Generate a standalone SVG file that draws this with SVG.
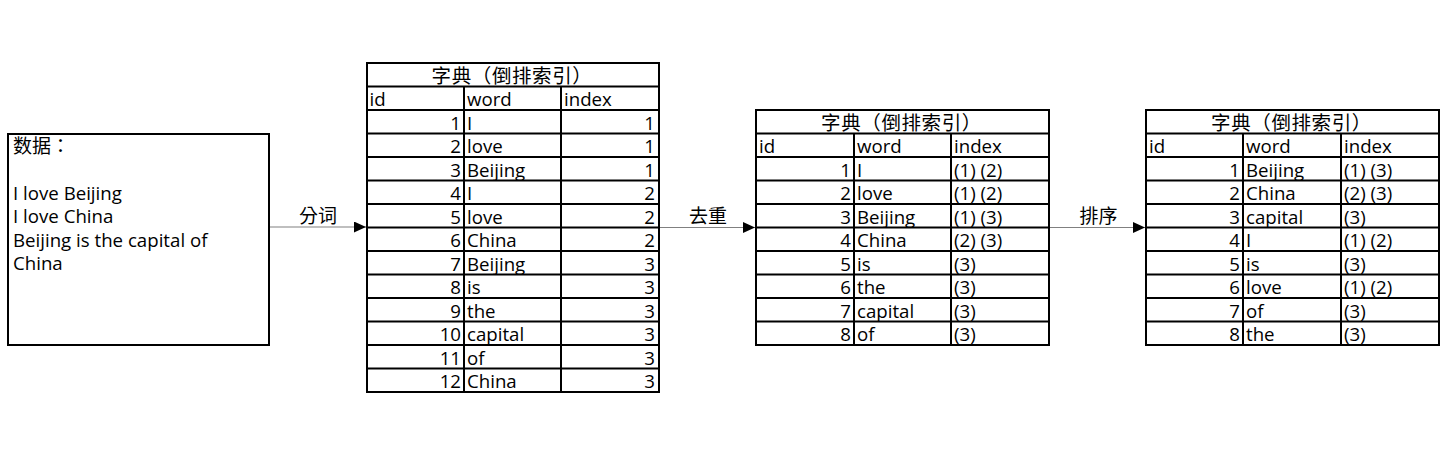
<svg xmlns="http://www.w3.org/2000/svg" width="1448" height="463" viewBox="0 0 1448 463">
<style>
text{font-family:"Open Sans","Noto Sans CJK SC",sans-serif;font-size:18.67px;fill:#000}
.e{text-anchor:end}
.m{text-anchor:middle}
.t{font-size:19.5px;letter-spacing:0.6px}
.cjk{font-family:"Open Sans","Noto Sans CJK TC",sans-serif;font-size:19px}
.box{fill:#fff;stroke:#000;stroke-width:2}
.grid{stroke:#000;stroke-width:2;fill:none}
.conn{stroke:#808080;stroke-width:1.2;fill:none}
</style>
<defs>
<marker id="arr" markerUnits="userSpaceOnUse" markerWidth="13" markerHeight="12" refX="12" refY="5.5" orient="auto">
<path d="M0,0 L12,5.5 L0,11 z" fill="#000"/>
</marker>
</defs>
<rect width="1448" height="463" fill="#fff"/>

<g id="connectors">
<line class="conn" x1="270" y1="227" x2="366" y2="227" marker-end="url(#arr)"/>
<text class="m cjk" x="318" y="223">分词</text>
<line class="conn" x1="660" y1="227.5" x2="755" y2="227.5" marker-end="url(#arr)"/>
<text class="m cjk" x="708" y="223">去重</text>
<line class="conn" x1="1050" y1="227.5" x2="1145" y2="227.5" marker-end="url(#arr)"/>
<text class="m cjk" x="1098.5" y="223">排序</text>
</g>

<g id="data">
<rect class="box" x="8" y="134" width="261" height="211"/>
<text class="cjk" x="13" y="153.4">数据：</text>
<text x="13" y="200">I love Beijing</text>
<text x="13" y="223.3">I love China</text>
<text x="13" y="246.6">Beijing is the capital of</text>
<text x="13" y="269.9">China</text>
</g>

<g id="table1">
<rect class="box" x="367" y="63" width="292" height="329"/>
<path class="grid" d="M367,86.5H659M367,110H659M367,133.5H659M367,157H659M367,180.5H659M367,204H659M367,227.5H659M367,251H659M367,274.5H659M367,298H659M367,321.5H659M367,345H659M367,368.5H659M464,86.5V392M561,86.5V392"/>
<text class="m t" x="512" y="82.5">字典（倒排索引）</text>
<text x="369.5" y="106">id</text><text x="467" y="106">word</text><text x="564" y="106">index</text>
<text class="e" x="461" y="129.5">1</text><text x="467" y="129.5">I</text><text class="e" x="655" y="129.5">1</text>
<text class="e" x="461" y="153">2</text><text x="467" y="153">love</text><text class="e" x="655" y="153">1</text>
<text class="e" x="461" y="176.5">3</text><text x="467" y="176.5">Beijing</text><text class="e" x="655" y="176.5">1</text>
<text class="e" x="461" y="200">4</text><text x="467" y="200">I</text><text class="e" x="655" y="200">2</text>
<text class="e" x="461" y="223.5">5</text><text x="467" y="223.5">love</text><text class="e" x="655" y="223.5">2</text>
<text class="e" x="461" y="247">6</text><text x="467" y="247">China</text><text class="e" x="655" y="247">2</text>
<text class="e" x="461" y="270.5">7</text><text x="467" y="270.5">Beijing</text><text class="e" x="655" y="270.5">3</text>
<text class="e" x="461" y="294">8</text><text x="467" y="294">is</text><text class="e" x="655" y="294">3</text>
<text class="e" x="461" y="317.5">9</text><text x="467" y="317.5">the</text><text class="e" x="655" y="317.5">3</text>
<text class="e" x="461" y="341">10</text><text x="467" y="341">capital</text><text class="e" x="655" y="341">3</text>
<text class="e" x="461" y="364.5">11</text><text x="467" y="364.5">of</text><text class="e" x="655" y="364.5">3</text>
<text class="e" x="461" y="388">12</text><text x="467" y="388">China</text><text class="e" x="655" y="388">3</text>
</g>

<g id="table2">
<rect class="box" x="756" y="110" width="293" height="235"/>
<path class="grid" d="M756,133.5H1049M756,157H1049M756,180.5H1049M756,204H1049M756,227.5H1049M756,251H1049M756,274.5H1049M756,298H1049M756,321.5H1049M854,133.5V345M951,133.5V345"/>
<text class="m t" x="901.5" y="129.5">字典（倒排索引）</text>
<text x="759" y="153">id</text><text x="857" y="153">word</text><text x="954" y="153">index</text>
<text class="e" x="851" y="176.5">1</text><text x="857" y="176.5">I</text><text x="954" y="176.5">(1) (2)</text>
<text class="e" x="851" y="200">2</text><text x="857" y="200">love</text><text x="954" y="200">(1) (2)</text>
<text class="e" x="851" y="223.5">3</text><text x="857" y="223.5">Beijing</text><text x="954" y="223.5">(1) (3)</text>
<text class="e" x="851" y="247">4</text><text x="857" y="247">China</text><text x="954" y="247">(2) (3)</text>
<text class="e" x="851" y="270.5">5</text><text x="857" y="270.5">is</text><text x="954" y="270.5">(3)</text>
<text class="e" x="851" y="294">6</text><text x="857" y="294">the</text><text x="954" y="294">(3)</text>
<text class="e" x="851" y="317.5">7</text><text x="857" y="317.5">capital</text><text x="954" y="317.5">(3)</text>
<text class="e" x="851" y="341">8</text><text x="857" y="341">of</text><text x="954" y="341">(3)</text>
</g>

<g id="table3">
<rect class="box" x="1146" y="110" width="293" height="235"/>
<path class="grid" d="M1146,133.5H1439M1146,157H1439M1146,180.5H1439M1146,204H1439M1146,227.5H1439M1146,251H1439M1146,274.5H1439M1146,298H1439M1146,321.5H1439M1243,133.5V345M1341,133.5V345"/>
<text class="m t" x="1291.5" y="129.5">字典（倒排索引）</text>
<text x="1149" y="153">id</text><text x="1246" y="153">word</text><text x="1344" y="153">index</text>
<text class="e" x="1240" y="176.5">1</text><text x="1246" y="176.5">Beijing</text><text x="1344" y="176.5">(1) (3)</text>
<text class="e" x="1240" y="200">2</text><text x="1246" y="200">China</text><text x="1344" y="200">(2) (3)</text>
<text class="e" x="1240" y="223.5">3</text><text x="1246" y="223.5">capital</text><text x="1344" y="223.5">(3)</text>
<text class="e" x="1240" y="247">4</text><text x="1246" y="247">I</text><text x="1344" y="247">(1) (2)</text>
<text class="e" x="1240" y="270.5">5</text><text x="1246" y="270.5">is</text><text x="1344" y="270.5">(3)</text>
<text class="e" x="1240" y="294">6</text><text x="1246" y="294">love</text><text x="1344" y="294">(1) (2)</text>
<text class="e" x="1240" y="317.5">7</text><text x="1246" y="317.5">of</text><text x="1344" y="317.5">(3)</text>
<text class="e" x="1240" y="341">8</text><text x="1246" y="341">the</text><text x="1344" y="341">(3)</text>
</g>
</svg>
